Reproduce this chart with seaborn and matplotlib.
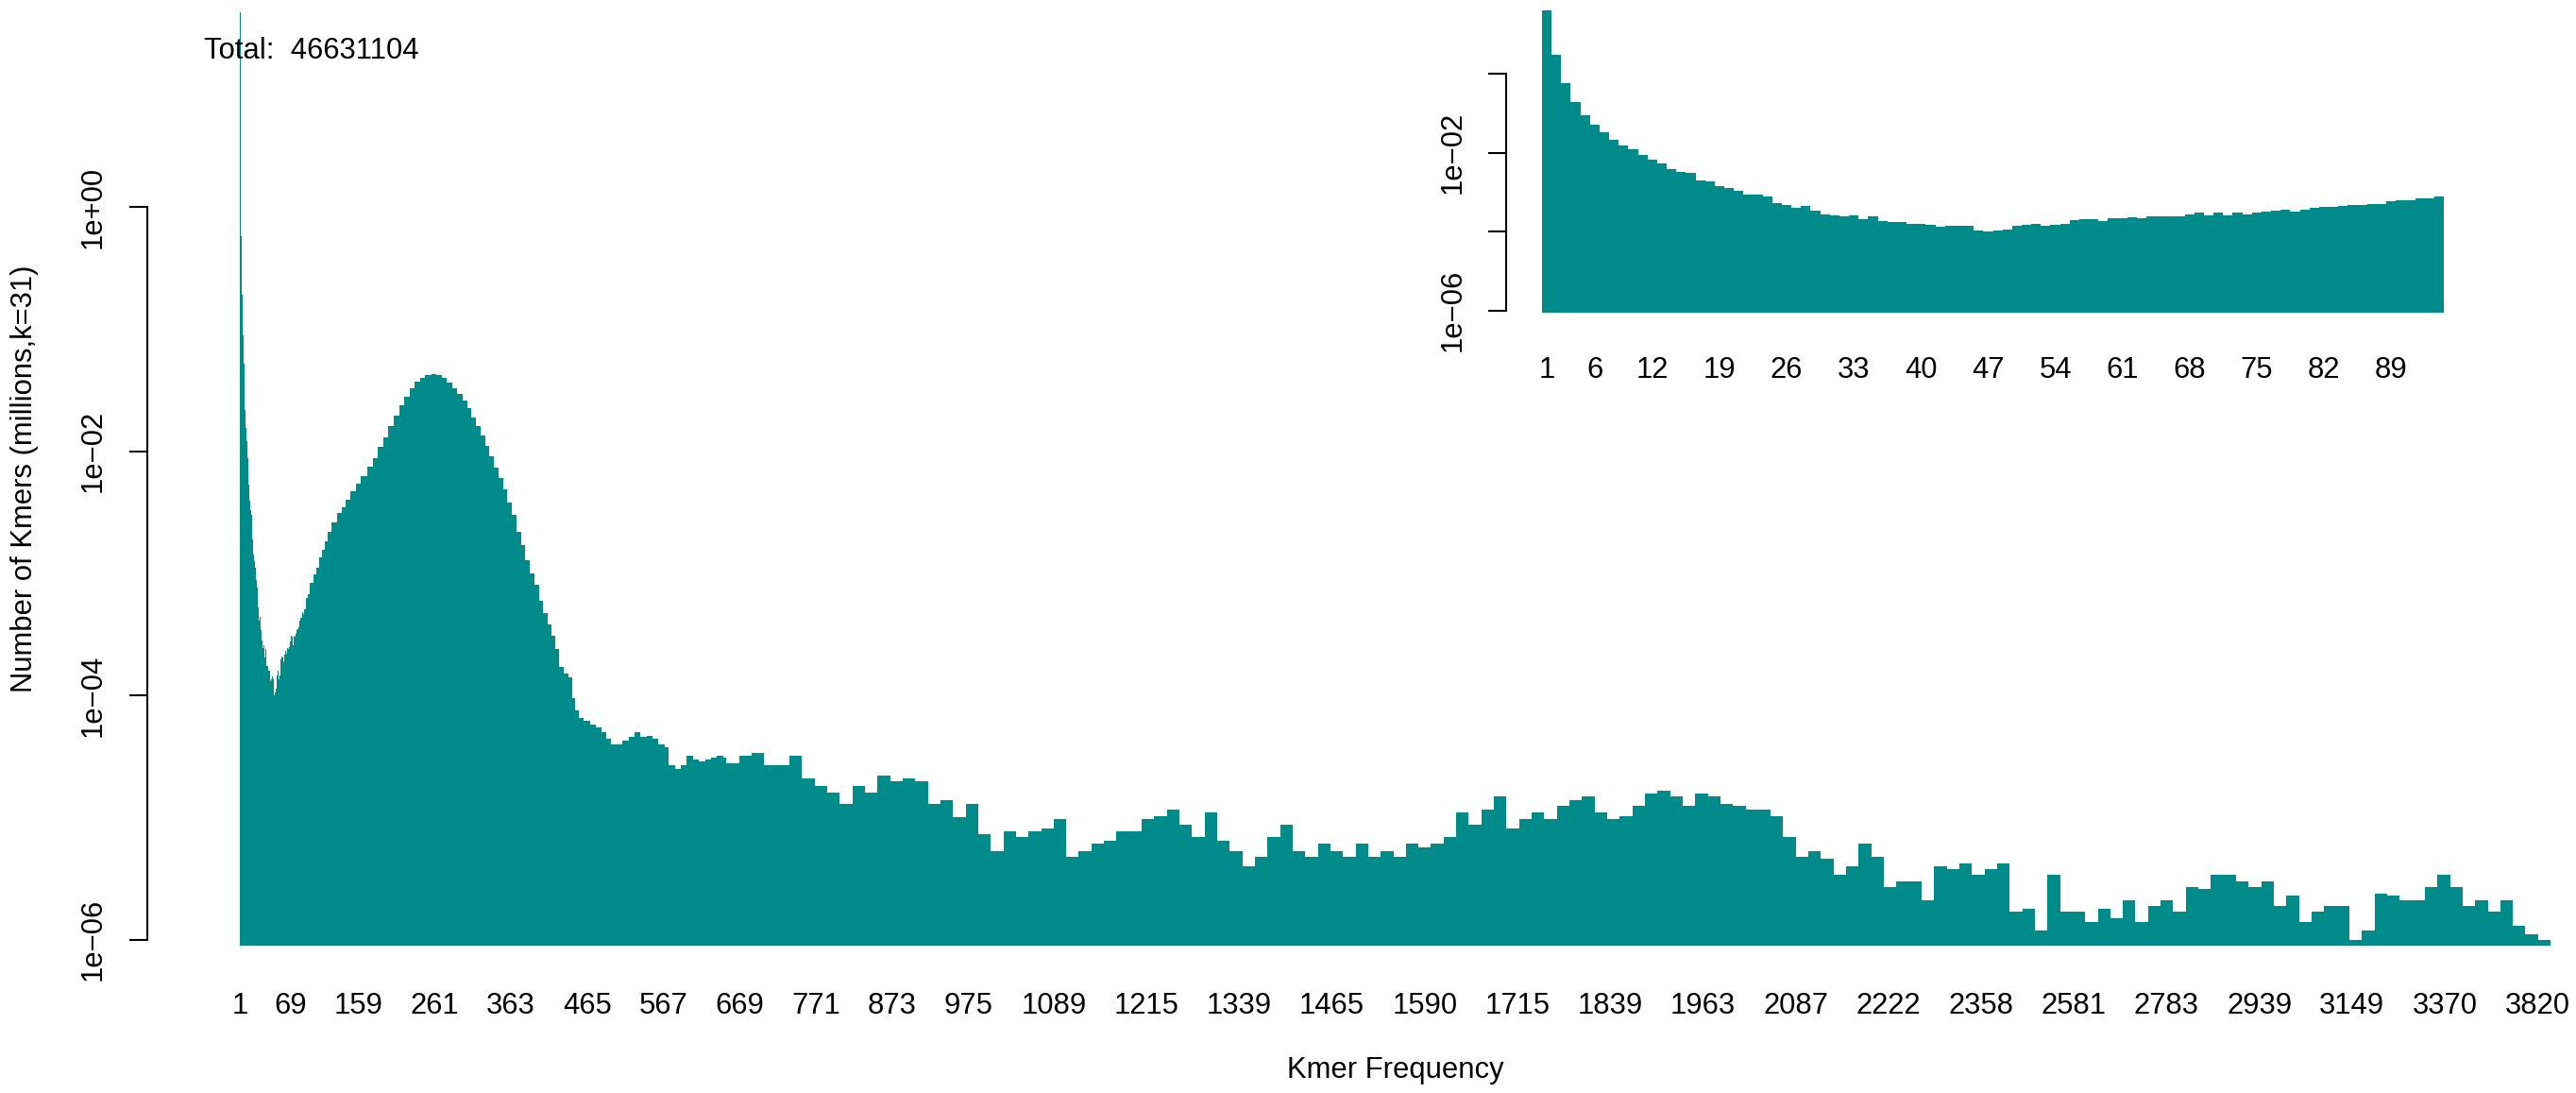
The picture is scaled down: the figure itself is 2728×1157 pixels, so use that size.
import numpy as np
import pandas as pd
import matplotlib
matplotlib.use("Agg")
import matplotlib.pyplot as plt
from matplotlib.ticker import NullLocator
import seaborn as sns

# ---------------- data ----------------
# millions of k-mers for frequencies 1..94 (one bar each)
low_vals = [39.3, 3.0, 0.577, 0.192, 0.089, 0.052, 0.033, 0.0216, 0.0156, 0.012,
            0.0088, 0.0068, 0.0053, 0.0039, 0.0033, 0.0030, 0.0020, 0.00188, 0.00143, 0.00126,
            0.00111, 0.00085, 0.00088, 0.00076, 0.00053, 0.00048, 0.00041, 0.00044, 0.00034, 0.00028,
            0.00026, 0.000246, 0.00026, 0.000204, 0.00024, 0.000183, 0.000173, 0.000173, 0.00016, 0.000158,
            0.00015, 0.000132, 0.000137, 0.000142, 0.000137, 0.000104, 0.0001, 0.000106, 0.000113, 0.000137,
            0.000145, 0.000158, 0.000137, 0.000145, 0.00016, 0.000197, 0.000207, 0.000204, 0.000187, 0.00022,
            0.000215, 0.00023, 0.00022, 0.000246, 0.00025, 0.00024, 0.00025, 0.000275, 0.00031, 0.00026,
            0.0003, 0.00026, 0.00031, 0.00028, 0.0003, 0.00032, 0.00034, 0.00035, 0.00033, 0.00036,
            0.00041, 0.00043, 0.00043, 0.00044, 0.00048, 0.00046, 0.00051, 0.00051, 0.00058, 0.00063,
            0.00063, 0.00068, 0.00068, 0.00076]

# peak region: bar rank where each reading starts, and value (millions)
mid_rank = [94, 98, 102, 106, 110, 114, 118, 123, 130, 136,
            142, 148, 155, 162, 170, 178, 185, 192, 199, 206,
            213, 220, 227, 234, 241, 248, 256, 263, 270, 277,
            284, 291, 298, 304, 310, 316, 322, 328, 334, 340,
            346, 352, 358, 364, 370, 376, 382, 388, 394, 400,
            406, 412, 417, 422, 427, 433, 440, 444, 449, 454,
            460, 468, 476, 484, 490, 496, 504, 512, 520, 528,
            536, 544, 552, 560, 568, 574, 582, 590, 598, 606,
            614, 622, 630, 638, 646]
mid_vals = [0.00084, 0.00098, 0.00112, 0.00135, 0.00155, 0.00182, 0.0022, 0.0026, 0.0031, 0.0035,
            0.0040, 0.0047, 0.0054, 0.0063, 0.0074, 0.0088, 0.0108, 0.0130, 0.0160, 0.0195,
            0.0238, 0.0280, 0.0325, 0.0370, 0.0400, 0.0420, 0.0428, 0.0418, 0.0395, 0.0362,
            0.0328, 0.0295, 0.0260, 0.0225, 0.0190, 0.0160, 0.0135, 0.0110, 0.0090, 0.0073,
            0.0060, 0.0049, 0.0038, 0.0030, 0.0022, 0.0017, 0.00128, 0.00100, 0.00080, 0.00060,
            0.00047, 0.00038, 0.00031, 0.00024, 0.00017, 0.00015, 0.00014, 0.000095, 0.000075, 0.000066,
            0.000062, 0.000058, 0.000055, 0.000050, 0.000044, 0.000040, 0.000040, 0.000043, 0.000046, 0.000050,
            0.000046, 0.000047, 0.000044, 0.000040, 0.000038, 0.000027, 0.000025, 0.000027, 0.000032, 0.000030,
            0.000029, 0.000030, 0.000031, 0.000032, 0.000031]

# long tail: k-mer counts, equal-width blocks from rank 651 to the last bar
tail_start, n_bars = 651, 3090
tail_kmers = [28, 32, 34, 27, 27, 32, 21, 18, 16, 13, 18, 16, 22, 20, 21, 20, 13, 14, 10, 13,
              7.3, 5.3, 7.7, 6.9, 7.7, 8.2, 9.8, 4.8, 5.3, 6.1, 6.5, 7.7, 7.7, 9.8, 10.3, 11.7, 8.7, 6.9, 11,
              6.5, 5.3, 4.0, 4.8, 6.9, 8.7, 5.3, 4.8, 6.1, 5.3, 4.8, 6.1, 4.8, 5.3, 4.8, 6.1, 5.7, 6.1, 6.9, 11,
              8.7, 11.7, 15, 8.2, 9.8, 11, 9.8, 12.4, 14, 15, 11, 9.8, 10.3, 12.4, 15.8, 16.5, 15, 12.4, 15.8,
              15, 13, 12.4, 11.7, 11.7, 10.3, 6.9, 4.8, 5.3, 4.6, 3.4, 4.0, 6.1, 4.8, 2.7, 3.0, 3.0, 2.1, 4.0, 3.8,
              4.2, 3.4, 3.8, 4.2, 1.7, 1.8, 1.2, 3.4, 1.7, 1.7, 1.4, 1.8, 1.5, 2.1, 1.4, 1.9, 2.1, 1.7, 2.7,
              2.6, 3.4, 3.4, 3.0, 2.7, 3.0, 1.9, 2.3, 1.4, 1.7, 1.9, 1.9, 1.0, 1.2, 2.4, 2.3, 2.1, 2.1, 2.7, 3.4,
              2.7, 1.9, 2.1, 1.7, 2.1, 1.3, 1.1, 1.0]

main_tick_labels = ['1', '69', '159', '261', '363', '465', '567', '669', '771', '873', '975',
                    '1089', '1215', '1339', '1465', '1590', '1715', '1839', '1963', '2087',
                    '2222', '2358', '2581', '2783', '2939', '3149', '3370', '3820']
main_tick_rank = [0, 68, 158, 260, 362, 464, 566, 668, 770, 872, 974,
                  1088, 1212, 1336, 1460, 1584, 1708, 1832, 1956, 2080,
                  2204, 2328, 2452, 2576, 2700, 2824, 2948, 3072]
inset_tick_labels = ['1', '6', '12', '19', '26', '33', '40', '47', '54', '61', '68', '75', '82', '89']

y_ticks = [1e-6, 1e-4, 1e-2, 1.0]
y_tick_labels = ['1e\u221206', '1e\u221204', '1e\u221202', '1e+00']
inset_y_tick_labels = ['1e\u221206', '', '1e\u221202', '']
total_text = 'Total:  46631104'
x_title = 'Kmer Frequency'
y_title = 'Number of Kmers (millions,k=31)'

# ---------------- build tables ----------------
n_low = len(low_vals)
edges = np.concatenate([np.arange(0, n_low), np.array(mid_rank, float),
                        np.linspace(tail_start, n_bars, len(tail_kmers) + 1)])
values = np.concatenate([low_vals, mid_vals, np.array(tail_kmers) * 1e-6])
main_df = pd.DataFrame({"rank": edges[:-1], "millions": values})
low_df = pd.DataFrame({"rank": np.arange(n_low, dtype=float), "millions": low_vals})

# ---------------- style ----------------
sns.set_theme(style="white")
plt.rcParams['font.family'] = ['Liberation Sans', 'DejaVu Sans']
plt.rcParams['text.color'] = 'black'
plt.rcParams['axes.labelcolor'] = 'black'
plt.rcParams['xtick.color'] = 'black'
plt.rcParams['ytick.color'] = 'black'

W, H, DPI = 2728, 1157, 100
FS = 22.3
TEAL = '#008B8B'
fig = plt.figure(figsize=(W / DPI, H / DPI), dpi=DPI)
fig.patch.set_facecolor('white')


def px_axes(left, right, top, bottom):
    return fig.add_axes([left / W, 1 - bottom / H, (right - left) / W, (bottom - top) / H])


ymin, ymax = 0.9e-6, 10 ** 1.90


def style_axes(ax, xlim, tick_pos, tick_labels, ylabels, xpad, ypad):
    ax.set_yscale('log')
    ax.set_ylim(ymin, ymax)
    ax.set_xlim(*xlim)
    ax.set_facecolor('none')
    for s in ['top', 'right', 'bottom']:
        ax.spines[s].set_visible(False)
    ax.spines['left'].set_bounds(1e-6, 1.0)
    ax.spines['left'].set_linewidth(1.5)
    ax.spines['left'].set_color('black')
    ax.set_yticks(y_ticks)
    ax.set_yticklabels(ylabels)
    ax.yaxis.set_minor_locator(NullLocator())
    ax.set_xticks(tick_pos)
    ax.set_xticklabels(tick_labels)
    ax.xaxis.set_minor_locator(NullLocator())
    ax.tick_params(axis='y', which='major', direction='out', length=13.7, width=1.5,
                   labelsize=FS, pad=ypad, left=True, labelrotation=90)
    ax.tick_params(axis='x', which='major', length=0, labelsize=FS, pad=xpad, bottom=True)
    for lab in ax.get_yticklabels():
        lab.set_va('center')
    ax.grid(False)


# ---------------- main plot ----------------
ax = px_axes(156, 2799, -26.7, 1000.7)
sns.histplot(data=main_df, x="rank", weights="millions", bins=[float(e) for e in edges],
             color=TEAL, alpha=1, linewidth=0, edgecolor='none', ax=ax)
style_axes(ax, (-0.04 * n_bars, 1.04 * n_bars), np.array(main_tick_rank) + 0.5,
           main_tick_labels, y_tick_labels, xpad=35.5, ypad=17)
ax.set_xlabel(x_title, fontsize=FS)
ax.xaxis.set_label_coords(1477.5 / W, 1 - 1141 / H, transform=fig.transFigure)
ax.xaxis.label.set_va('baseline')
ax.set_ylabel(y_title, fontsize=FS)
ax.yaxis.set_label_coords(26 / W, 1 - 507 / H, transform=fig.transFigure)
ax.yaxis.label.set_va('center')
ax.yaxis.label.set_ha('center')

fig.text(216 / W, 1 - 62 / H, total_text, ha='left', va='baseline', fontsize=FS, color='black')

# ---------------- inset ----------------
axi = px_axes(1594.8, 2626.2, -1.4, 330.7)
sns.histplot(data=low_df, x="rank", weights="millions", bins=[float(e) for e in range(n_low + 1)],
             color=TEAL, alpha=1, linewidth=0, edgecolor='none', ax=axi)
inset_pos = np.array([int(v) for v in inset_tick_labels]) - 1 + 0.5
style_axes(axi, (-0.04 * n_low, 1.04 * n_low), inset_pos, inset_tick_labels,
           inset_y_tick_labels, xpad=33.3, ypad=16)
axi.set_xlabel('')
axi.set_ylabel('')

fig.savefig('out.png', dpi=DPI, facecolor='white')
